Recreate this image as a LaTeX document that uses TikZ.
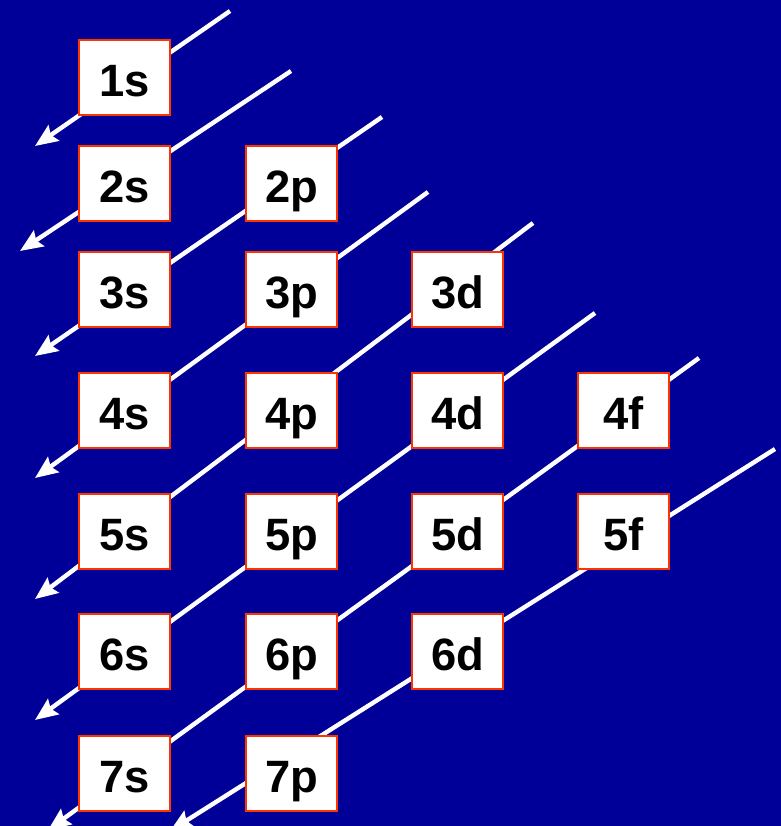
\documentclass[tikz,border=0pt]{standalone}
\usepackage{fontspec}
\setmainfont{Liberation Sans}
\usepackage{xcolor}
\usetikzlibrary{positioning, arrows.meta}
\definecolor{orb-bg}{HTML}{000099}
\definecolor{orb-red}{HTML}{FF3300}

\begin{document}
\begin{tikzpicture}[x=0.75pt, y=-0.75pt,
    box/.style={draw=orb-red, fill=white, line width=1.3pt, minimum width=68pt, minimum height=56pt,
                inner sep=0pt, text height=28pt, text depth=0pt, text=black,
                font=\fontsize{34}{36}\selectfont\bfseries},
    arr/.style={-{Stealth[length=17pt, width=14pt, inset=2.5pt]}, white, line width=3.3pt},
]
    % Background
    \fill[orb-bg] (0,0) rectangle (781,826);
    \useasboundingbox (0,0) rectangle (781,826);

    % Arrow ends
    \coordinate (a1) at (230,11);  \coordinate (b1) at (35,146);
    \coordinate (a2) at (291,71);  \coordinate (b2) at (20,251);
    \coordinate (a3) at (382,117); \coordinate (b3) at (35,356);
    \coordinate (a4) at (428,192); \coordinate (b4) at (35,478);
    \coordinate (a5) at (533,223); \coordinate (b5) at (35,599);
    \coordinate (a6) at (595,313); \coordinate (b6) at (35,720);
    \coordinate (a7) at (699,358); \coordinate (b7) at (48,830);
    \coordinate (a8) at (775,449); \coordinate (b8) at (170,831);

    % Arrows (behind the boxes)
    \foreach \i in {1,...,8}
        \draw[arr] (a\i) -- (b\i);

    % s column
    \node[box] (o1s) at (124.5,77.5) {1s};
    \node[box] (o2s) at (124.5,183.5) {2s};
    \node[box] (o3s) at (124.5,289.5) {3s};
    \node[box] (o4s) at (124.5,410.5) {4s};
    \node[box] (o5s) at (124.5,531.5) {5s};
    \node[box] (o6s) at (124.5,651.5) {6s};
    \node[box] (o7s) at (124.5,773.5) {7s};

    % p column
    \node[box] (o2p) at (291.5,183.5) {2p};
    \node[box] (o3p) at (291.5,289.5) {3p};
    \node[box] (o4p) at (291.5,410.5) {4p};
    \node[box] (o5p) at (291.5,531.5) {5p};
    \node[box] (o6p) at (291.5,651.5) {6p};
    \node[box] (o7p) at (291.5,773.5) {7p};

    % d column
    \node[box] (o3d) at (457.5,289.5) {3d};
    \node[box] (o4d) at (457.5,410.5) {4d};
    \node[box] (o5d) at (457.5,531.5) {5d};
    \node[box] (o6d) at (457.5,651.5) {6d};

    % f column
    \node[box] (o4f) at (623.5,410.5) {4f};
    \node[box] (o5f) at (623.5,531.5) {5f};

\end{tikzpicture}
\end{document}
